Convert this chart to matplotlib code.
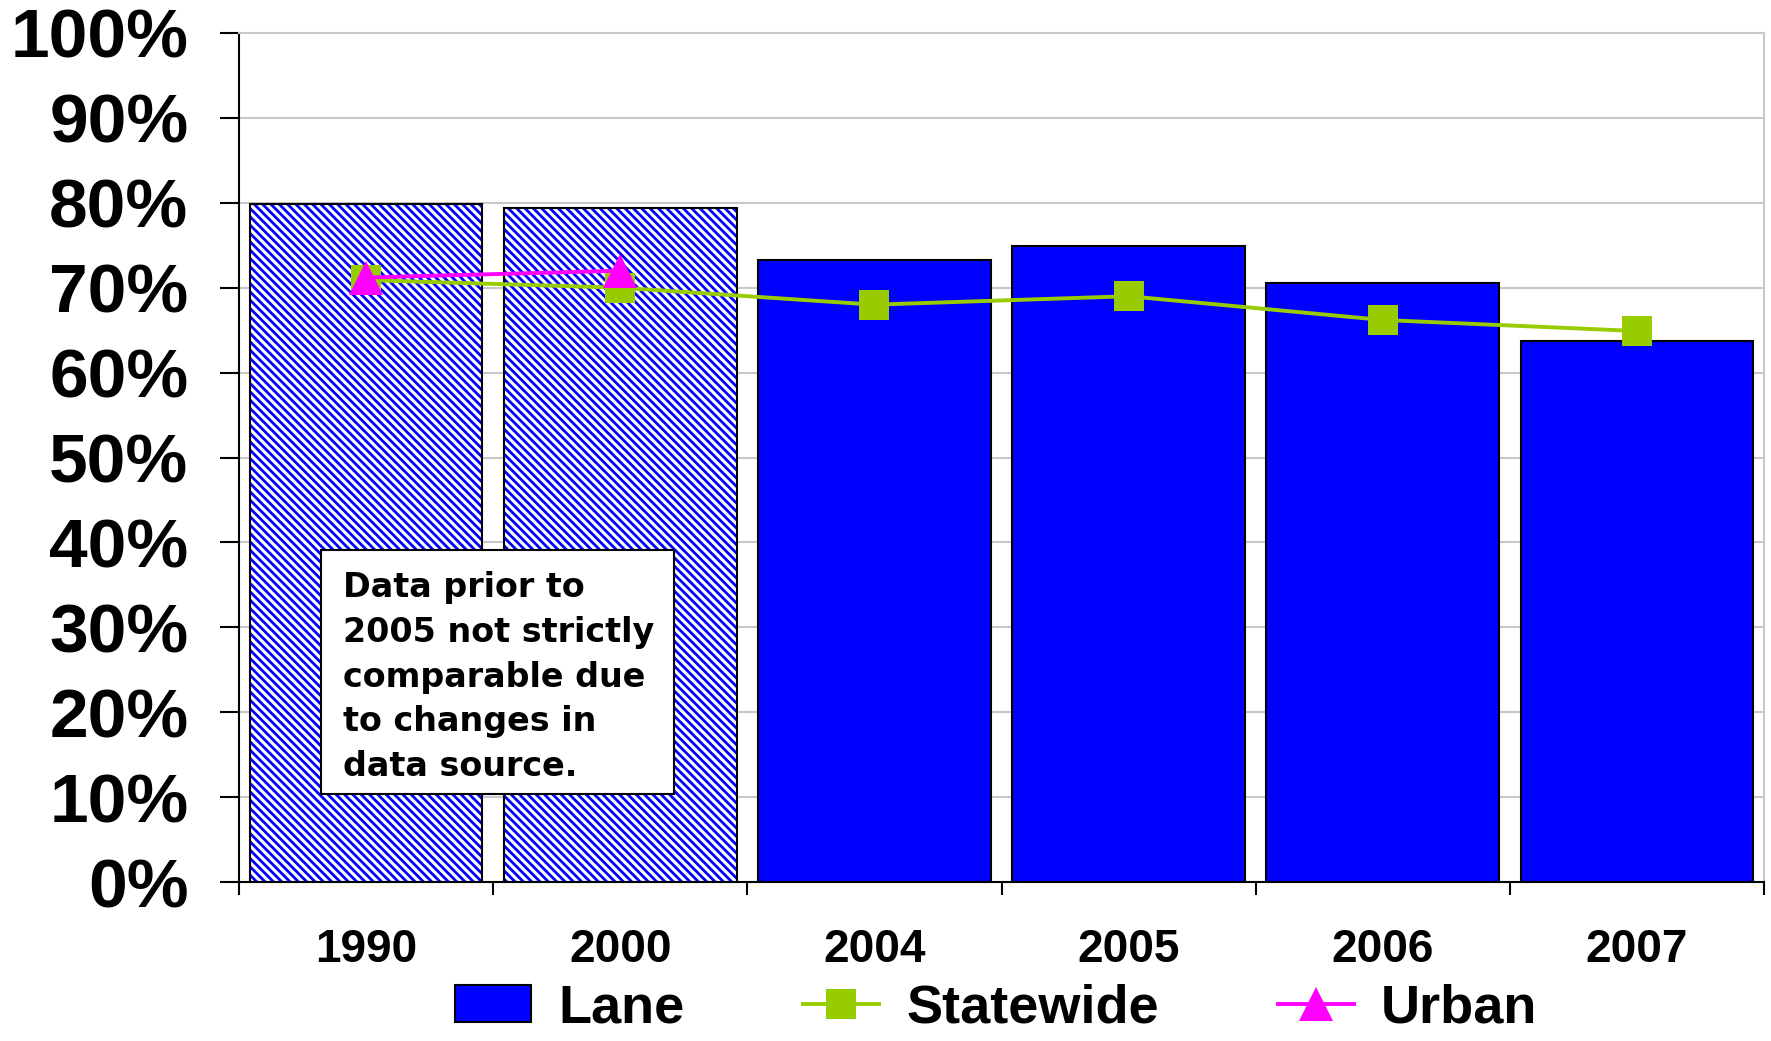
import numpy as np
import matplotlib.pyplot as plt
from matplotlib.patches import Rectangle
from matplotlib.lines import Line2D
from matplotlib.ticker import FixedLocator, PercentFormatter

years = ['1990', '2000', '2004', '2005', '2006', '2007']
lane = [79.9, 79.4, 73.3, 74.9, 70.6, 63.7]
statewide = [70.9, 70.0, 68.0, 69.0, 66.2, 64.9]
urban_years = ['1990', '2000']
urban = [71.2, 72.0]
hatched = [True, True, False, False, False, False]

note = "Data prior to\n2005 not strictly\ncomparable due\nto changes in\ndata source."

blue = '#0000FF'
green = '#99CC00'
pink = '#FF00FF'

plt.rcParams['hatch.linewidth'] = 2.0

fig = plt.figure(figsize=(17.71, 10.41), dpi=100)
ax = fig.add_axes([0.135, 0.1527, 0.861, 0.8156])

x = np.arange(len(years))
for xi, val, h in zip(x, lane, hatched):
    if h:
        # hatch takes the edge colour, so draw the black outline separately
        ax.bar(xi, val, width=0.915, color='white', edgecolor=blue,
               hatch='\\\\\\\\', linewidth=0, zorder=2)
        ax.bar(xi, val, width=0.915, fill=False, edgecolor='black',
               linewidth=1.5, zorder=3)
    else:
        ax.bar(xi, val, width=0.915, color=blue, edgecolor='black',
               linewidth=1.5, zorder=2)

ax.plot(x, statewide, color=green, lw=2.8, marker='s', ms=22,
        markeredgewidth=0, zorder=4)
ux = [years.index(y) for y in urban_years]
ax.plot(ux, urban, color=pink, lw=2.8, marker='^', ms=24,
        markeredgewidth=0, zorder=5)

# note box
ax.add_patch(Rectangle((-0.176, 10.4), 1.387, 28.7, facecolor='white',
                       edgecolor='black', lw=1.5, zorder=6))
ax.text(-0.09, 36.6, note, ha='left', va='top', fontsize=24,
        family='DejaVu Sans', fontweight='bold', linespacing=1.45, zorder=7)

ax.set_xlim(-0.5, 5.5)
ax.set_ylim(0, 100)
ax.set_yticks(np.arange(0, 101, 10))
ax.yaxis.set_major_formatter(PercentFormatter(decimals=0))
ax.grid(axis='y', color='#c8c8c8', lw=1.5, zorder=0)
ax.set_axisbelow(True)

ax.set_xticks(x)
ax.set_xticklabels(years)
ax.xaxis.set_minor_locator(FixedLocator(np.arange(-0.5, 5.6, 1.0)))
ax.tick_params(axis='x', which='major', length=0, pad=33)
ax.tick_params(axis='x', which='minor', length=9, width=1.5, direction='out')
ax.tick_params(axis='y', length=14, width=1.5, direction='out', pad=22.5)

for lab in ax.get_xticklabels():
    lab.set_fontfamily('Liberation Sans')
    lab.set_fontweight('bold')
    lab.set_fontsize(33)
for lab in ax.get_yticklabels():
    lab.set_fontfamily('Liberation Sans')
    lab.set_fontweight('bold')
    lab.set_fontsize(50)

ax.spines['left'].set_linewidth(1.5)
ax.spines['bottom'].set_linewidth(1.5)
for side in ['top', 'right']:
    ax.spines[side].set_color('#c8c8c8')
    ax.spines[side].set_linewidth(1.5)

handles = [
    Rectangle((0, 0), 1, 1, facecolor=blue, edgecolor='black', lw=1.5),
    Line2D([], [], color=green, lw=2.8, marker='s', ms=22, markeredgewidth=0),
    Line2D([], [], color=pink, lw=2.8, marker='^', ms=24, markeredgewidth=0),
]
fig.legend(handles, ['Lane', 'Statewide', 'Urban'], loc='center',
           bbox_to_anchor=(0.5625, 0.031), ncol=3, frameon=False,
           prop={'family': 'Liberation Sans', 'weight': 'bold', 'size': 39},
           handlelength=1.4, handleheight=0.68, handletextpad=0.5,
           columnspacing=2.2, borderpad=0.1)

fig.savefig('out.png', dpi=100)
